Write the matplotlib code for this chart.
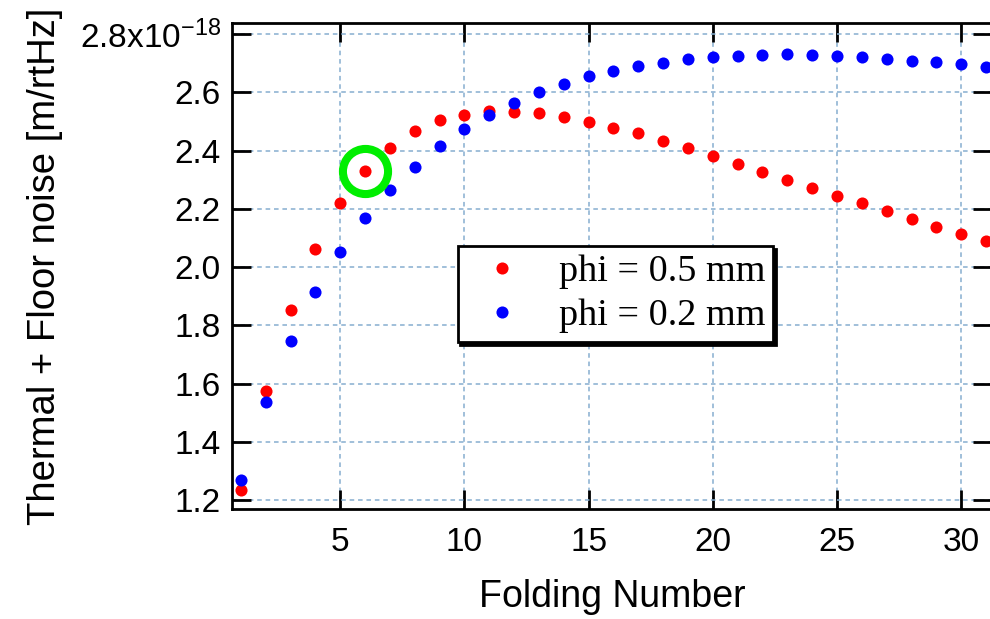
import matplotlib
matplotlib.use("Agg")
import matplotlib.pyplot as plt
from matplotlib.ticker import FixedLocator, FuncFormatter

plt.rcParams['font.family'] = ['Liberation Sans', 'DejaVu Sans']
plt.rcParams['mathtext.default'] = 'regular'

# noise in units of 1e-18 m/rtHz
folding = list(range(1, 32))
noise_05 = [1.234, 1.574, 1.851, 2.062, 2.219, 2.331, 2.410, 2.467, 2.504, 2.523,
            2.537, 2.533, 2.528, 2.514, 2.498, 2.478, 2.459, 2.433, 2.409, 2.381,
            2.354, 2.326, 2.299, 2.272, 2.245, 2.219, 2.191, 2.164, 2.138, 2.114,
            2.090]
noise_02 = [1.269, 1.535, 1.746, 1.915, 2.052, 2.169, 2.263, 2.344, 2.415, 2.474,
            2.523, 2.564, 2.601, 2.629, 2.655, 2.674, 2.690, 2.702, 2.713, 2.720,
            2.724, 2.727, 2.730, 2.727, 2.724, 2.720, 2.714, 2.708, 2.703, 2.696,
            2.686]
labels = ["phi = 0.5 mm", "phi = 0.2 mm"]
highlight = 6  # folding number circled in green

xticks = [5, 10, 15, 20, 25, 30]
yticks = [1.2, 1.4, 1.6, 1.8, 2.0, 2.2, 2.4, 2.6, 2.8]

fig = plt.figure(figsize=(9.9, 6.19), dpi=100)
ax = fig.add_axes([0.2343, 0.1772, 0.7677, 0.7851])

ax.plot(folding, noise_05, 'o', color='#ff0000', ms=8.7, mew=0, label=labels[0], zorder=3)
ax.plot(folding, noise_02, 'o', color='#0000ff', ms=8.7, mew=0, label=labels[1], zorder=3)
i = folding.index(highlight)
ax.plot([folding[i]], [noise_05[i]], 'o', ms=32.5, mfc='none', mec='#00ee00', mew=5.8, zorder=4)

ax.set_xlim(0.64, 31.24)
ax.set_ylim(1.168, 2.8367)
ax.xaxis.set_major_locator(FixedLocator(xticks))
ax.yaxis.set_major_locator(FixedLocator(yticks))

def yfmt(v, pos):
    if abs(v - 2.8) < 1e-6:
        return '2.8x10$^{-18}$'
    return '%.1f' % v

ax.yaxis.set_major_formatter(FuncFormatter(yfmt))

ax.grid(True, color='#86aed0', linestyle=(0, (3, 2.5)), linewidth=1.1)
ax.set_axisbelow(True)

ax.tick_params(direction='in', length=14, width=2, top=True, right=True, labelsize=24)
ax.tick_params(axis='x', pad=13)
ax.tick_params(axis='y', pad=8)
for s in ax.spines.values():
    s.set_linewidth(2)

ax.set_xlabel("Folding Number", fontsize=27, labelpad=15)
ax.set_ylabel("Thermal + Floor noise [m/rtHz]", fontsize=27.5)
ax.yaxis.set_label_coords(-0.222, 0.5)

leg = ax.legend(loc='upper left', bbox_to_anchor=(0.297, 0.542), borderaxespad=0,
                prop={'family': 'Liberation Serif', 'size': 27.5}, fancybox=False,
                framealpha=1, edgecolor='black', handlelength=1.9, handletextpad=0.52,
                borderpad=0.22, labelspacing=0.25, markerscale=1.0,
                shadow={'color': 'black', 'alpha': 1})
leg.get_frame().set_linewidth(2)

fig.savefig("out.png", dpi=100)
